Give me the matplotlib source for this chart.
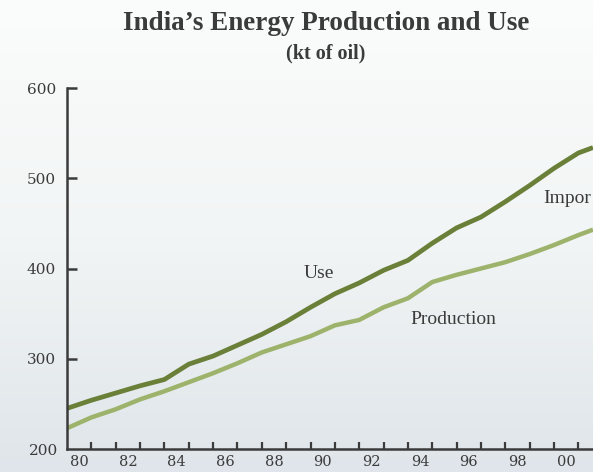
import numpy as np
from matplotlib import pyplot as plt
from matplotlib.colors import LinearSegmentedColormap

# year boundaries 1980..2001 plus the cut-off end of the chart
years = [1980, 1981, 1982, 1983, 1984, 1985, 1986, 1987, 1988, 1989, 1990,
         1991, 1992, 1993, 1994, 1995, 1996, 1997, 1998, 1999, 2000, 2001, 2001.6]
use = [245, 254, 262, 270, 277, 294, 303, 315, 327, 341, 357,
       372, 384, 398, 409, 428, 445, 457, 474, 492, 511, 528, 534]
production = [223, 235, 244, 255, 264, 274, 284, 295, 307, 316, 325,
              337, 343, 357, 367, 385, 393, 400, 407, 416, 426, 437, 443]
tick_years = list(range(1981, 2002))
label_years = [1980, 1982, 1984, 1986, 1988, 1990, 1992, 1994, 1996, 1998, 2000]
label_text = ['80', '82', '84', '86', '88', '90', '92', '94', '96', '98', '00']
yticks = [300, 400, 500, 600]

ink = '#3b3b3b'
use_col = '#6a7f38'
prod_col = '#9db36c'

fig = plt.figure(figsize=(5.93, 4.72), dpi=100)

# soft background gradient
bg = fig.add_axes([0, 0, 1, 1], zorder=-1)
grad = np.linspace(0, 1, 256).reshape(-1, 1)
cm = LinearSegmentedColormap.from_list('bg', ['#fbfcfc', '#f2f5f5', '#dfe5ea'])
bg.imshow(grad, aspect='auto', cmap=cm, extent=[0, 1, 0, 1])
bg.axis('off')

ax = fig.add_axes([67/593, 23/472, 1 - 67/593, (449-88)/472])
ax.patch.set_alpha(0)
ax.plot(years, production, color=prod_col, lw=3.2, solid_capstyle='butt', solid_joinstyle='round')
ax.plot(years, use, color=use_col, lw=3.4, solid_capstyle='butt', solid_joinstyle='round')
ax.set_xlim(1980, 1980 + (593-67)/24.35)
ax.set_ylim(200, 600)

for s in ['top', 'right']:
    ax.spines[s].set_visible(False)
for s in ['left', 'bottom']:
    ax.spines[s].set_color(ink)
    ax.spines[s].set_linewidth(1.8)

ax.set_xticks(tick_years)
ax.set_xticklabels([])
ax.tick_params(axis='x', which='major', direction='in', length=5, width=1.6, color=ink)
ax.set_xticks([y + 0.5 for y in label_years], minor=True)
ax.set_xticklabels(label_text, minor=True, fontsize=10.5, color=ink, family='DejaVu Serif')
ax.tick_params(axis='x', which='minor', length=0, pad=4)

ax.set_yticks(yticks)
ax.set_yticklabels([str(v) for v in yticks], fontsize=11, color=ink, family='DejaVu Serif')
ax.tick_params(axis='y', direction='in', length=7, width=1.8, color=ink, pad=8)
ax.text(-0.017, 198, '200', transform=ax.get_yaxis_transform(), ha='right', va='center',
        fontsize=11, color=ink, family='DejaVu Serif')

ax.text(1990.35, 395, 'Use', ha='center', va='center', fontsize=14, color=ink, family='Liberation Serif')
ax.text(1995.85, 343, 'Production', ha='center', va='center', fontsize=14, color=ink, family='Liberation Serif')
ax.text(1999.55, 478, 'Impor', ha='left', va='center', fontsize=14, color=ink, family='Liberation Serif')

fig.text(326/593, 1 - 23/472, "India\u2019s Energy Production and Use", ha='center', va='center',
         fontsize=19.5, fontweight='bold', color=ink, family='Liberation Serif')
fig.text(326/593, 1 - 53/472, '(kt of oil)', ha='center', va='center',
         fontsize=14.5, fontweight='bold', color=ink, family='Liberation Serif')

fig.savefig('out.png', dpi=100)
